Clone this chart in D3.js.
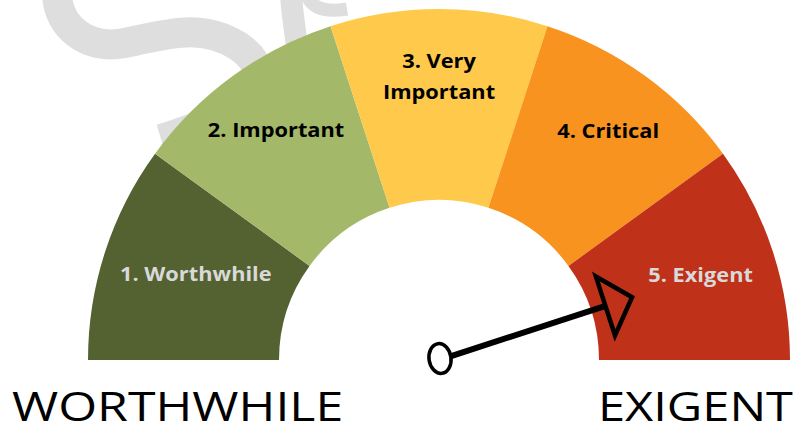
<!DOCTYPE html>
<html lang="en">
<head>
    <meta charset="utf-8">
    <title>Gauge</title>
    <script src="https://d3js.org/d3.v7.min.js" charset="utf-8"></script>
    <style type="text/css">
        body { margin: 0; background: #fff; }
        svg { display: block; }
    </style>
</head>
<body>
<script type="text/javascript">
    // gauge data
    var categories = ['1. Worthwhile', '2. Important', '3. Very|Important', '4. Critical', '5. Exigent'];
    var weights = [1, 1, 1, 1, 1];
    var colors = ['#546130', '#a3b868', '#ffc94c', '#f7931e', '#c0311a'];
    var labelColors = ['#d9d9d9', '#000', '#000', '#000', '#d9d9d9'];
    var needleValue = 4.5;
    var scaleMax = 5;
    var endLabels = ['WORTHWHILE', 'EXIGENT'];

    // layout
    var width = 801, height = 432;
    var cx = 439, cy = 360;
    var rInner = 160, rOuter = 351;
    var labelR = [258, 282, 284, 285, 275];
    var labelA = [19.5, 54.7, 90, 126.4, 162]; // degrees from the left end

    var svg = d3.select('body').append('svg')
            .attr('width', width)
            .attr('height', height);

    // faint watermark swirl behind the gauge
    var wm = svg.append('g').attr('fill', 'none').attr('stroke', '#dedede');
    wm.append('path')
            .attr('d', 'M57,-6 C58,28 88,50 125,43 C165,35 200,22 238,46 C282,76 250,112 161,139')
            .attr('stroke-width', 30);
    wm.append('path')
            .attr('d', 'M291,-6 C292,15 296,35 300,70')
            .attr('stroke-width', 22);
    wm.append('path')
            .attr('d', 'M306,-6 Q314,15 347,9')
            .attr('stroke-width', 13);

    var pie = d3.pie().sort(null)
            .startAngle(-Math.PI / 2)
            .endAngle(Math.PI / 2);
    var arc = d3.arc().innerRadius(rInner).outerRadius(rOuter);

    var arcs = pie(weights);
    var g = svg.append('g').attr('transform', 'translate(' + cx + ',' + cy + ')');

    g.selectAll('path.seg')
            .data(arcs)
            .enter()
            .append('path')
            .attr('class', 'seg')
            .attr('d', arc)
            .style('fill', function (d, i) {
                return colors[i];
            });

    var labels = g.selectAll('text.lbl')
            .data(arcs)
            .enter()
            .append('text')
            .attr('class', 'lbl')
            .attr('text-anchor', 'middle')
            .style('font-family', '"Open Sans", sans-serif')
            .style('font-weight', 700)
            .style('font-size', '20px')
            .style('fill', function (d, i) {
                return labelColors[i];
            })
            .attr('transform', function (d, i) {
                var a = labelA[i] * Math.PI / 180;
                var x = -labelR[i] * Math.cos(a);
                var y = -labelR[i] * Math.sin(a);
                return 'translate(' + x + ',' + y + ') scale(1.09,1)';
            });

    labels.each(function (d, i) {
        var lines = categories[i].split('|');
        var t = d3.select(this);
        var lh = 31;
        lines.forEach(function (s, j) {
            t.append('tspan')
                    .attr('x', 0)
                    .attr('y', (j - (lines.length - 1) / 2) * lh)
                    .attr('dy', '0.36em')
                    .text(s);
        });
    });

    // needle
    var angle = d3.scaleLinear().domain([0, scaleMax]).range([180, 0]);
    var needle = g.append('g')
            .attr('transform', 'rotate(' + (-angle(needleValue)) + ')');
    needle.append('line')
            .attr('x1', 12).attr('y1', 0)
            .attr('x2', 176).attr('y2', 0)
            .style('stroke', '#000')
            .style('stroke-width', 6);
    needle.append('path')
            .attr('d', 'M175,-31 L203,0 L175,31 Z')
            .style('fill', 'none')
            .style('stroke', '#000')
            .style('stroke-width', 4.5)
            .style('stroke-linejoin', 'miter');
    g.append('ellipse')
            .attr('cx', 1).attr('cy', -1.5)
            .attr('rx', 11).attr('ry', 15)
            .attr('transform', 'rotate(-8,1,-1.5)')
            .style('fill', '#fff')
            .style('stroke', '#000')
            .style('stroke-width', 3.5);

    // end labels
    svg.append('text')
            .attr('transform', 'translate(12,421) scale(1.22,1)')
            .style('font-family', '"Open Sans", sans-serif')
            .style('font-size', '41px')
            .text(endLabels[0]);
    svg.append('text')
            .attr('transform', 'translate(793,421) scale(1.19,1)')
            .attr('text-anchor', 'end')
            .style('font-family', '"Open Sans", sans-serif')
            .style('font-size', '41px')
            .text(endLabels[1]);
</script>
</body>
</html>
